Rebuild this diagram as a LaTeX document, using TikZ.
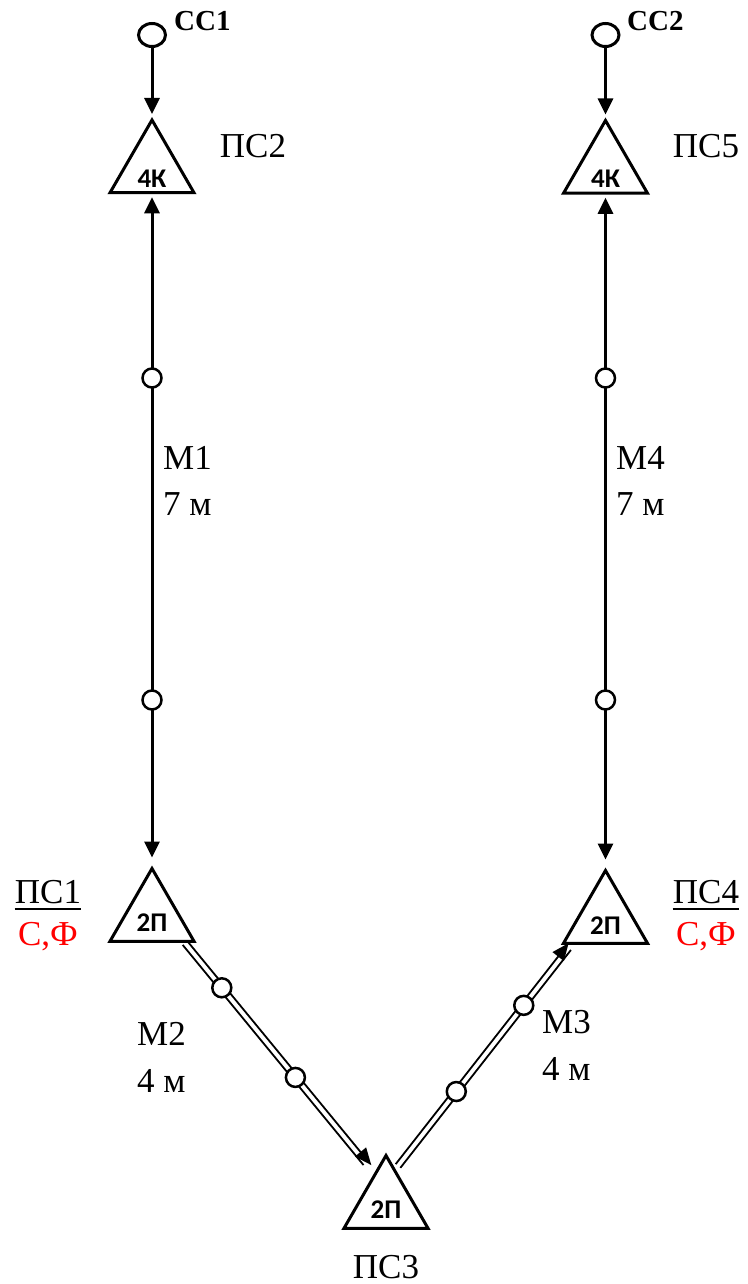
\documentclass[tikz,border=0pt]{standalone}
\usepackage{fontspec}
\setmainfont{Liberation Serif}
\newfontfamily\calib{Carlito}
\usetikzlibrary{arrows.meta,shapes.geometric,calc}
\begin{document}
\begin{tikzpicture}[x=1pt,y=-1pt,
  tri/.style={draw,line width=3pt,regular polygon,regular polygon sides=3,minimum size=97pt,inner sep=0pt},
  tritxt/.style={font=\calib\bfseries\fontsize{27}{27}\selectfont,inner sep=0pt},
  lbl/.style={font=\fontsize{35}{35}\selectfont,inner sep=0pt},
  redlbl/.style={lbl,text=red},
  src/.style={draw,line width=3pt,ellipse,minimum width=27pt,minimum height=23pt,inner sep=0pt},
  srctxt/.style={font=\bfseries\fontsize{29}{29}\selectfont,inner sep=0pt},
  valve/.style={draw,circle,fill=white,line width=2.5pt,minimum size=19pt,inner sep=0pt},
  pipe/.style={line width=3pt,-{Triangle[length=16pt,width=15pt]}},
  pipe2/.style={line width=3pt,{Triangle[length=16pt,width=15pt]}-{Triangle[length=16pt,width=15pt]}},
  dl/.style={line width=1.8pt},
  dla/.style={line width=1.8pt,-{Triangle[length=17pt,width=14pt]}}
]
\useasboundingbox (0,0) rectangle (747,1284);

% sources
\node[src] (cc1) at (152,35) {};
\node[srctxt,anchor=base west] (cc1t) at (174,31) {СС1};
\node[src] (cc2) at (605.5,35) {};
\node[srctxt,anchor=base west] (cc2t) at (627,31) {СС2};

% triangles
\node[tri] (ps2) at (152,168.5) {};
\node[tritxt] (ps2t) at (152,179) {4К};
\node[tri] (ps5) at (605.5,169) {};
\node[tritxt] (ps5t) at (605.5,179) {4К};
\node[tri] (ps1) at (152,917) {};
\node[tritxt] (ps1t) at (152,923) {2П};
\node[tri] (ps4) at (605.5,919) {};
\node[tritxt] (ps4t) at (605.5,926) {2П};
\node[tri] (ps3) at (386,1204) {};
\node[tritxt] (ps3t) at (386,1210) {2П};

% labels
\node[lbl,anchor=base] (l2) at (253,158) {ПС2};
\node[lbl,anchor=base] (l5) at (706,158) {ПС5};
\node[lbl,anchor=base] (l1) at (48,903) {ПС1};
\draw[line width=1.5pt] ($(l1.base west)+(0,6)$) -- ($(l1.base east)+(0,6)$);
\node[redlbl,anchor=base] (l1b) at (48,945) {С,Ф};
\node[lbl,anchor=base] (l4) at (706,903) {ПС4};
\draw[line width=1.5pt] ($(l4.base west)+(0,6)$) -- ($(l4.base east)+(0,6)$);
\node[redlbl,anchor=base] (l4b) at (706,945) {С,Ф};
\node[lbl,anchor=base] (l3) at (386,1278) {ПС3};

\node[lbl,anchor=base west] (m1) at (163,469) {М1};
\node[lbl,anchor=base west] (m1l) at (163,515) {7 м};
\node[lbl,anchor=base west] (m4) at (616,469) {М4};
\node[lbl,anchor=base west] (m4l) at (616,515) {7 м};
\node[lbl,anchor=base west] (m2) at (137,1045) {М2};
\node[lbl,anchor=base west] (m2l) at (137,1092) {4 м};
\node[lbl,anchor=base west] (m3) at (542,1033) {М3};
\node[lbl,anchor=base west] (m3l) at (542,1080) {4 м};

% source arrows
\draw[pipe,shorten >=3pt] (cc1) -- (ps2.corner 1);
\draw[pipe,shorten >=3pt] (cc2) -- (ps5.corner 1);

% vertical pipes
\draw[pipe2,shorten <=3pt,shorten >=8pt] (ps2.side 2) -- (ps1.corner 1);
\draw[pipe2,shorten <=3pt,shorten >=8pt] (ps5.side 2) -- (ps4.corner 1);
\node[valve] (v1) at (152,378) {};
\node[valve] (v2) at (152,700) {};
\node[valve] (v3) at (605.5,378) {};
\node[valve] (v4) at (605.5,700) {};

% M2 double pipe
\coordinate (m2a) at (185,943);
\coordinate (m2b) at (369,1167);
\draw[dla] ($(m2a)!3pt!90:(m2b)$) -- ($(m2b)!3pt!-90:(m2a)$);
\draw[dl,shorten >=5pt] ($(m2a)!3pt!-90:(m2b)$) -- ($(m2b)!3pt!90:(m2a)$);
\node[valve] (v5) at ($(m2a)!0.2!(m2b)$) {};
\node[valve] (v6) at ($(m2a)!0.6!(m2b)$) {};

% M3 double pipe
\coordinate (m3a) at (398,1166);
\coordinate (m3b) at (571,945);
\draw[dla] ($(m3a)!3pt!90:(m3b)$) -- ($(m3b)!3pt!-90:(m3a)$);
\draw[dl,shorten >=4pt] ($(m3a)!3pt!-90:(m3b)$) -- ($(m3b)!3pt!90:(m3a)$);
\node[valve] (v7) at ($(m3a)!0.337!(m3b)$) {};
\node[valve] (v8) at ($(m3a)!0.727!(m3b)$) {};
\end{tikzpicture}
\end{document}
